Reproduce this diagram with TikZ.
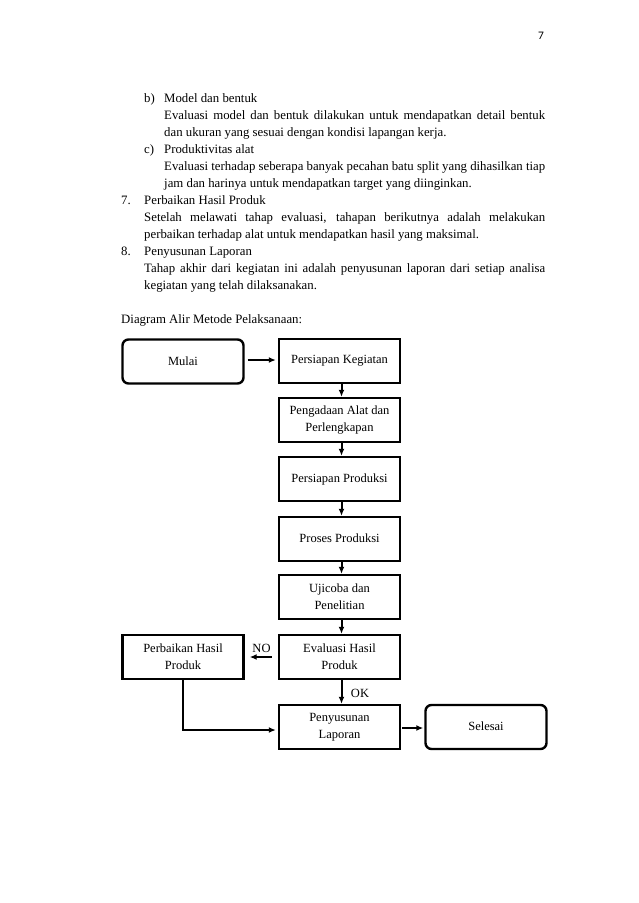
\documentclass[tikz,border=0pt]{standalone}
\usepackage{fontspec}
\setmainfont{Liberation Serif}
\newfontfamily\pagefont{Carlito}
\usetikzlibrary{arrows.meta}

\newcommand{\jline}[2]{\makebox[#1pt][s]{#2}}
\newcommand{\upline}[1]{\raisebox{2.5pt}{#1}}

\tikzset{
  body/.style={anchor=base west, inner sep=0pt, font=\fontsize{12.8}{17}\selectfont},
  procbox/.style={draw, line width=2.4pt, minimum width=121pt, minimum height=44pt, align=center, inner sep=2pt, font=\fontsize{12.5}{17}\selectfont},
  termbox/.style={procbox, rounded corners=6pt},
  flow/.style={line width=2pt, -{Latex[length=7pt,width=6pt]}},
  tag/.style={inner sep=0pt, font=\fontsize{12.5}{15}\selectfont}
}

\begin{document}
\begin{tikzpicture}[x=1pt,y=1pt,yscale=-1,xscale=1]
        \useasboundingbox (0,0) rectangle (638,903);
        \node (pgnum) at (541,36) {\pagefont\fontsize{11.5}{13}\selectfont 7};
        % text above the chart
        \node[body] (lb) at (144,102.5) {b)};
        \node[body] (b0) at (164,102.5) {Model dan bentuk};
        \node[body] (b1) at (164,119.5) {\jline{381}{Evaluasi model dan bentuk dilakukan untuk mendapatkan detail bentuk}};
        \node[body] (b2) at (164,136.5) {dan ukuran yang sesuai dengan kondisi lapangan kerja.};
        \node[body] (lc) at (144,153.5) {c)};
        \node[body] (c0) at (164,153.5) {Produktivitas alat};
        \node[body] (c1) at (164,170.5) {\jline{381}{Evaluasi terhadap seberapa banyak pecahan batu split yang dihasilkan tiap}};
        \node[body] (c2) at (164,187.5) {jam dan harinya untuk mendapatkan target yang diinginkan.};
        \node[body] (l7) at (121,204.5) {7.};
        \node[body] (s0) at (144,204.5) {Perbaikan Hasil Produk};
        \node[body] (s1) at (144,221.5) {\jline{401}{Setelah melawati tahap evaluasi, tahapan berikutnya adalah melakukan}};
        \node[body] (s2) at (144,238.5) {perbaikan terhadap alat untuk mendapatkan hasil yang maksimal.};
        \node[body] (l8) at (121,255.5) {8.};
        \node[body] (e0) at (144,255.5) {Penyusunan Laporan};
        \node[body] (e1) at (144,272.5) {\jline{401}{Tahap akhir dari kegiatan ini adalah penyusunan laporan dari setiap analisa}};
        \node[body] (e2) at (144,289.5) {kegiatan yang telah dilaksanakan.};
        \node[body] (dtitle) at (121,323) {Diagram Alir Metode Pelaksanaan:};
        % flow chart
        \node[termbox] (mulai) at (183,361.5) {Mulai};
        \node[procbox] (persiapan) at (339.5,361) {\upline{Persiapan Kegiatan}};
        \node[procbox] (pengadaan) at (339.5,420) {Pengadaan Alat dan\\Perlengkapan};
        \node[procbox] (prepprod) at (339.5,479) {\upline{Persiapan Produksi}};
        \node[procbox] (proses) at (339.5,539) {\upline{Proses Produksi}};
        \node[procbox] (ujicoba) at (339.5,597) {Ujicoba dan\\Penelitian};
        \node[procbox] (evaluasi) at (339.5,657) {Evaluasi Hasil\\Produk};
        \node[procbox] (perbaikan) at (183,657) {Perbaikan Hasil\\Produk};
        \node[procbox] (laporan) at (339.5,727) {Penyusunan\\Laporan};
        \node[termbox] (selesai) at (486,727) {\upline{Selesai}};
        \node[tag] (notag) at (261.5,648) {NO};
        \node[tag] (oktag) at (360,693) {OK};
        \draw[flow, shorten <=3pt, shorten >=2pt] ([yshift=-1.5pt]mulai.east) -- ([yshift=-1.5pt]mulai.east -| persiapan.west);
        \draw[flow] ([xshift=2pt]persiapan.south) -- ([xshift=2pt]pengadaan.north);
        \draw[flow] ([xshift=2pt]pengadaan.south) -- ([xshift=2pt]prepprod.north);
        \draw[flow] ([xshift=2pt]prepprod.south) -- ([xshift=2pt]proses.north);
        \draw[flow] ([xshift=2pt]proses.south) -- ([xshift=2pt]ujicoba.north);
        \draw[flow] ([xshift=2pt]ujicoba.south) -- ([xshift=2pt]evaluasi.north);
        \draw[flow] ([xshift=2pt]evaluasi.south) -- ([xshift=2pt]laporan.north);
        \draw[flow, shorten <=6pt, shorten >=5pt] (evaluasi.west) -- (perbaikan.east);
        \draw[flow, shorten >=2pt] (perbaikan.south) |- ([yshift=3pt]laporan.west);
        \draw[flow, shorten <=1pt, shorten >=1pt] ([yshift=1pt]laporan.east) -- ([yshift=1pt]selesai.west);
\end{tikzpicture}
\end{document}
